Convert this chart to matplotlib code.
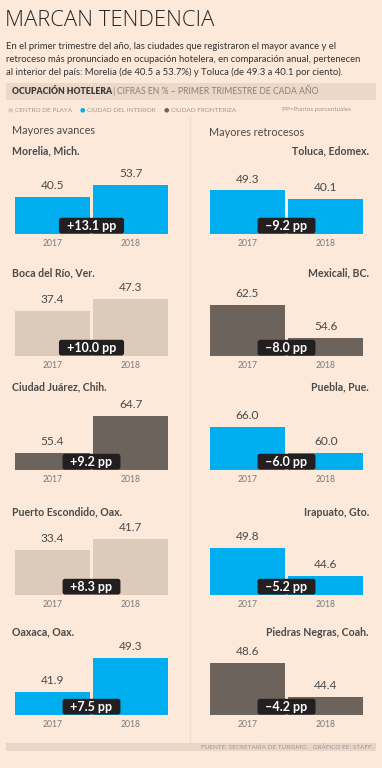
import matplotlib
matplotlib.use('Agg')
import matplotlib.pyplot as plt
from matplotlib.patches import Rectangle
from matplotlib.lines import Line2D

#%% DATA

years = ['2017', '2018']

left_cities = ['Morelia, Mich.', 'Boca del Río, Ver.', 'Ciudad Juárez, Chih.',
               'Puerto Escondido, Oax.', 'Oaxaca, Oax.']
left_2017 = [40.5, 37.4, 55.4, 33.4, 41.9]
left_2018 = [53.7, 47.3, 64.7, 41.7, 49.3]
left_type = ['interior', 'playa', 'frontera', 'playa', 'interior']
left_diff = ['+13.1 pp', '+10.0 pp', '+9.2 pp', '+8.3 pp', '+7.5 pp']

right_cities = ['Toluca, Edomex.', 'Mexicali, BC.', 'Puebla, Pue.',
                'Irapuato, Gto.', 'Piedras Negras, Coah.']
right_2017 = [49.3, 62.5, 66.0, 49.8, 48.6]
right_2018 = [40.1, 54.6, 60.0, 44.6, 44.4]
right_type = ['interior', 'frontera', 'interior', 'interior', 'frontera']
right_diff = ['–9.2 pp', '–8.0 pp', '–6.0 pp', '–5.2 pp', '–4.2 pp']

# each panel has its own (truncated) value range
left_ylim = [(0, 87.9), (0, 66.7), (51, 71.25), (0, 59.3), (36.8, 54.2)]
right_ylim = [(3, 88.1), (50.4, 69.4), (55.9, 74.8), (41.1, 55.8), (42.2, 51.96)]

colors = {'playa': '#dccabb', 'interior': '#00adef', 'frontera': '#6b635c'}

#%% FIGURE

W, H = 382, 768
BG = '#fde9da'
plt.rcParams['font.family'] = ['Lato', 'DejaVu Sans']

fig = plt.figure(figsize=(W / 100, H / 100), dpi=100, facecolor=BG)

def ftext(x, y, s, **kw):
    fig.text(x / W, 1 - y / H, s, **kw)

ftext(5, 21, 'MARCAN TENDENCIA', fontsize=15.8, fontweight='light', color='#262626', va='center',
      family=['Open Sans', 'Lato'])

sub = ['En el primer trimestre del año, las ciudades que registraron el mayor avance y el',
       'retroceso más pronunciado en ocupación hotelera, en comparación anual, pertenecen',
       'al interior del país: Morelia (de 40.5 a 53.7%) y Toluca (de 49.3 a 40.1 por ciento).']
for i, line in enumerate(sub):
    ftext(6, 46.5 + i * 13, line, fontsize=6.85, color='#333333', va='center')

# header band
fig.add_artist(Rectangle((6 / W, 1 - 100 / H), 370 / W, 17 / H, color='#ecd8c8', lw=0))
ftext(12, 91.5, 'OCUPACIÓN HOTELERA', fontsize=6.2, fontweight='heavy', color='#3a3a3a', va='center')
ftext(112.5, 91.5, '|', fontsize=7, color='#9a8f88', va='center')
ftext(117, 91.5, 'CIFRAS EN % – PRIMER TRIMESTRE DE CADA AÑO', fontsize=6.2, color='#8a807a', va='center')

# legend
leg = [(10, 'CENTRO DE PLAYA', 'playa'), (82, 'CIUDAD DEL INTERIOR', 'interior'),
       (166, 'CIUDAD FRONTERIZA', 'frontera')]
for x, lab, t in leg:
    ftext(x, 110, '●', fontsize=4.5, color=colors[t], va='center', ha='center',
          family=['DejaVu Sans'])
    ftext(x + 5, 110, lab, fontsize=4.6, color='#a09690', va='center')
ftext(282, 110, 'PP=Puntos porcentuales', fontsize=4.6, color='#a09690', va='center')

ftext(12, 131, 'Mayores avances', fontsize=7.8, color='#4a4a4a', va='center')
ftext(209, 132, 'Mayores retrocesos', fontsize=7.8, color='#4a4a4a', va='center')

# divider
fig.add_artist(Line2D([190 / W, 190 / W], [1 - 118 / H, 1 - 742 / H], color='#f1dccb', lw=1))

baselines = [234, 356, 470, 595, 715]
PANEL_H = 80

def panel(x0, yb, v17, v18, typ, diff, ylim):
    ax = fig.add_axes([x0 / W, 1 - yb / H, 157 / W, PANEL_H / H])
    ax.set_facecolor('none')
    ax.axis('off')
    ax.set_xlim(-0.5, 1.5)
    ax.set_ylim(*ylim)
    ax.bar([0, 1], [v17, v18], width=0.95, color=colors[typ], zorder=2)
    ax.axhline(ylim[0], color='#c9b8ab', lw=0.8, zorder=3)
    for i, v in enumerate([v17, v18]):
        ax.annotate(f'{v:.1f}', (i, v), xytext=(0, 4.2), textcoords='offset points',
                    ha='center', va='bottom', fontsize=8.6, color='#4a4a4a')
        ax.annotate(years[i], (i, ylim[0]), xytext=(0, -3.5), textcoords='offset points',
                    ha='center', va='top', fontsize=6.2, color='#7a7a7a', annotation_clip=False)
    ax.annotate('  ' + diff + '  ', (0.5, ylim[0]), xytext=(0, 6), textcoords='offset points',
                ha='center', va='center', fontsize=9, fontweight='bold', color='white',
                zorder=5, annotation_clip=False,
                bbox=dict(boxstyle='round,pad=0.15,rounding_size=0.2', fc='#231f20', ec='none'))
    return ax

for k in range(5):
    yb = baselines[k]
    ftext(12, yb - 83, left_cities[k], fontsize=7.6, fontweight='bold', color='#4a4a4a', va='center')
    ftext(369, yb - 83, right_cities[k], fontsize=7.6, fontweight='bold', color='#4a4a4a',
          va='center', ha='right')
    panel(13, yb, left_2017[k], left_2018[k], left_type[k], left_diff[k], left_ylim[k])
    panel(208, yb, right_2017[k], right_2018[k], right_type[k], right_diff[k], right_ylim[k])

# footer
fig.add_artist(Rectangle((6 / W, 1 - 751 / H), 370 / W, 8 / H, color='#ead6c8', lw=0))
ftext(373, 747, 'FUENTE: SECRETARÍA DE TURISMO.   GRÁFICO EE: STAFF.', fontsize=4.6,
      color='#a09690', va='center', ha='right')

fig.savefig('out.png', dpi=100, facecolor=BG)
